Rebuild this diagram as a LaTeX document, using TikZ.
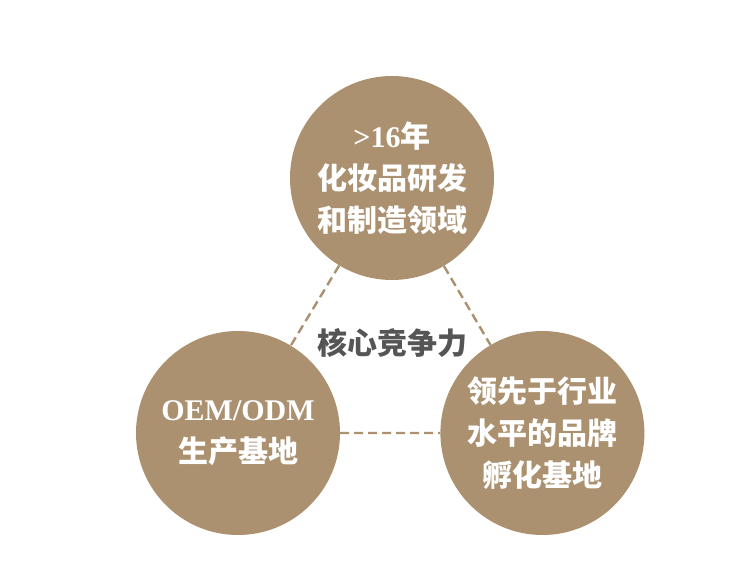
\documentclass[tikz,border=0pt]{standalone}
\usepackage{fontspec}
\setmainfont{Liberation Serif}
\newfontfamily\cjk{Noto Sans CJK SC}
\usetikzlibrary{positioning}
\definecolor{tan}{HTML}{AB916F}
\definecolor{coregray}{HTML}{555555}
\tikzset{main node/.style={circle, fill=tan, draw=none, minimum size=204pt, inner sep=0pt, text=white, align=center, font=\fontsize{30}{42}\selectfont\bfseries},
         core label/.style={text=coregray, font=\cjk\fontsize{30}{34}\selectfont\bfseries},}

\begin{document}
\begin{tikzpicture}[x=1pt, y=-1pt]
        \useasboundingbox (0,0) rectangle (750,562);
        % Circles
        \node[main node] (1) at (392,178) {>16{\cjk 年}\\{\cjk 化妆品研发}\\{\cjk 和制造领域}};
        \node[main node] (2) at (238,433) {OEM/ODM\\{\cjk 生产基地}};
        \node[main node] [right = 100pt of 2] (3) {{\cjk 领先于行业}\\{\cjk 水平的品牌}\\{\cjk 孵化基地}};
        \node[core label] (core) at (392,343) {核心竞争力};
        % Dashed links
        \path[draw, tan, line width=2.4pt, dash pattern=on 9pt off 5pt]
        (1) -- (2)
        (2) -- (3)
        (1) -- (3);
    \end{tikzpicture}
\end{document}
